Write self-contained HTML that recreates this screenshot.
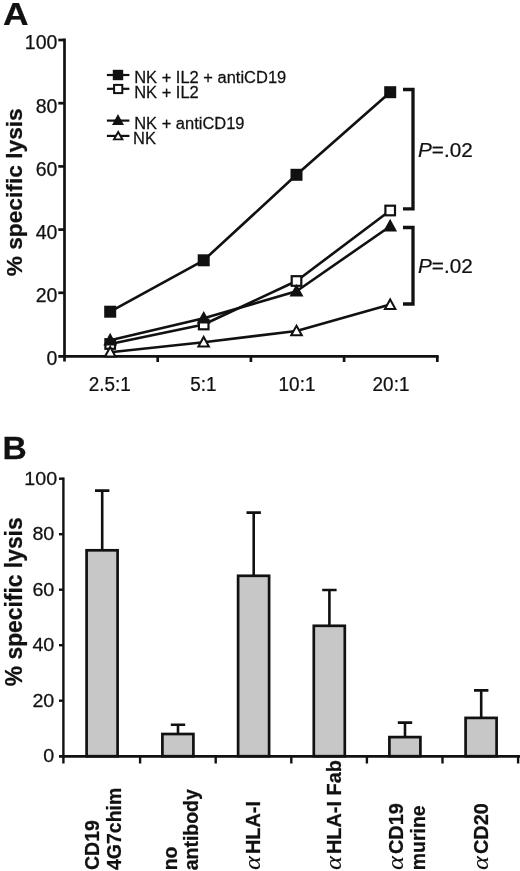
<!DOCTYPE html>
<html><head><meta charset="utf-8"><title>Figure</title>
<style>
html,body{margin:0;padding:0;background:#fff;}
svg{display:block;will-change:transform;}
text{font-family:"Liberation Sans",Arial,Helvetica,sans-serif;fill:#111;stroke:#111;stroke-width:0.25px;stroke-linejoin:round;}
.b{font-weight:bold;}
.al{font-family:"Liberation Serif","Times New Roman",serif;font-style:italic;font-weight:normal;stroke-width:0.1px;}
</style></head><body>
<svg width="520" height="871" viewBox="0 0 520 871">
<rect width="520" height="871" fill="#fff"/>

<text class="b" transform="translate(2.9 24.5) scale(1.11 1)" font-size="32">A</text>
<g stroke="#111" stroke-width="2.7" fill="none" stroke-linecap="butt">
<path d="M64.5 38.6V361.6"/>
<path d="M58.3 356.4H438.6"/>
<path d="M58.3 292.8H64.5"/>
<path d="M58.3 229.6H64.5"/>
<path d="M58.3 166.4H64.5"/>
<path d="M58.3 103.2H64.5"/>
<path d="M58.3 40.0H64.5"/>
<path d="M157.7 356V362"/>
<path d="M250.9 356V362"/>
<path d="M344.1 356V362"/>
<path d="M437.3 356V362"/>
</g>
<text transform="translate(57.4 365.4)" font-size="19.5" text-anchor="end">0</text>
<text transform="translate(57.4 302.2)" font-size="19.5" text-anchor="end">20</text>
<text transform="translate(57.4 239.0)" font-size="19.5" text-anchor="end">40</text>
<text transform="translate(57.4 175.8)" font-size="19.5" text-anchor="end">60</text>
<text transform="translate(57.4 112.6)" font-size="19.5" text-anchor="end">80</text>
<text transform="translate(57.4 49.4)" font-size="19.5" text-anchor="end">100</text>
<text transform="translate(109.8 391) scale(0.97 1)" font-size="19.5" text-anchor="middle">2.5:1</text>
<text transform="translate(203.5 391) scale(0.97 1)" font-size="19.5" text-anchor="middle">5:1</text>
<text transform="translate(297 391) scale(0.97 1)" font-size="19.5" text-anchor="middle">10:1</text>
<text transform="translate(391 391) scale(0.97 1)" font-size="19.5" text-anchor="middle">20:1</text>
<text class="b" transform="translate(21.8 192.3) rotate(-90) scale(1.002 1)" font-size="22.7" text-anchor="middle">% specific lysis</text>
<polyline points="110.2,311.7 203.7,260.3 296.5,174.8 390.2,92.2" stroke="#111" stroke-width="2.6" fill="none" stroke-linejoin="round"/>
<rect x="105.2" y="306.7" width="10" height="10" fill="#111" stroke="#111" stroke-width="2"/>
<rect x="198.7" y="255.3" width="10" height="10" fill="#111" stroke="#111" stroke-width="2"/>
<rect x="291.5" y="169.8" width="10" height="10" fill="#111" stroke="#111" stroke-width="2"/>
<rect x="385.2" y="87.2" width="10" height="10" fill="#111" stroke="#111" stroke-width="2"/>
<polyline points="110.2,344 203.7,324.5 296.5,281 390.2,210.5" stroke="#111" stroke-width="2.6" fill="none" stroke-linejoin="round"/>
<rect x="105.4" y="339.2" width="9.6" height="9.6" fill="#fff" stroke="#111" stroke-width="2.2"/>
<rect x="198.9" y="319.7" width="9.6" height="9.6" fill="#fff" stroke="#111" stroke-width="2.2"/>
<rect x="291.7" y="276.2" width="9.6" height="9.6" fill="#fff" stroke="#111" stroke-width="2.2"/>
<rect x="385.4" y="205.7" width="9.6" height="9.6" fill="#fff" stroke="#111" stroke-width="2.2"/>
<polyline points="110.2,340.2 203.7,318.3 296.5,291.3 390.2,226.2" stroke="#111" stroke-width="2.6" fill="none" stroke-linejoin="round"/>
<path d="M110.2 334.9L115.5 344.4H105.0Z" fill="#111" stroke="#111" stroke-width="2" stroke-linejoin="miter"/>
<path d="M203.7 313.1L208.9 322.6H198.4Z" fill="#111" stroke="#111" stroke-width="2" stroke-linejoin="miter"/>
<path d="M296.5 286.1L301.8 295.6H291.2Z" fill="#111" stroke="#111" stroke-width="2" stroke-linejoin="miter"/>
<path d="M390.2 220.9L395.4 230.4H384.9Z" fill="#111" stroke="#111" stroke-width="2" stroke-linejoin="miter"/>
<polyline points="110.2,352.2 203.7,342.2 296.5,331 390.2,304.6" stroke="#111" stroke-width="2.6" fill="none" stroke-linejoin="round"/>
<path d="M110.2 346.9L115.5 356.4H105.0Z" fill="#fff" stroke="#111" stroke-width="2" stroke-linejoin="miter"/>
<path d="M203.7 336.9L208.9 346.4H198.4Z" fill="#fff" stroke="#111" stroke-width="2" stroke-linejoin="miter"/>
<path d="M296.5 325.8L301.8 335.2H291.2Z" fill="#fff" stroke="#111" stroke-width="2" stroke-linejoin="miter"/>
<path d="M390.2 299.4L395.4 308.9H384.9Z" fill="#fff" stroke="#111" stroke-width="2" stroke-linejoin="miter"/>
<g stroke="#111" stroke-width="2.2">
<path d="M106.9 75H129.4"/>
<path d="M106.9 88.8H129.4"/>
<path d="M106.9 120.6H129.4"/>
<path d="M106.9 135.9H129.4"/>
</g>
<rect x="113.8" y="70.8" width="8.4" height="8.4" fill="#111" stroke="#111" stroke-width="2"/>
<rect x="114.1" y="84.9" width="8.2" height="8.2" fill="#fff" stroke="#111" stroke-width="2"/>
<path d="M118.0 116.1L122.3 124.1H113.7Z" fill="#111" stroke="#111" stroke-width="2" stroke-linejoin="miter"/>
<path d="M118.2 132.0L122.4 139.4H114.0Z" fill="#fff" stroke="#111" stroke-width="1.9" stroke-linejoin="miter"/>
<text transform="translate(134.2 82.5) scale(1.03 1)" font-size="16">NK + IL2 + antiCD19</text>
<text transform="translate(134.2 98) scale(1.03 1)" font-size="16">NK + IL2</text>
<text transform="translate(134.2 129.3) scale(1.03 1)" font-size="16">NK + antiCD19</text>
<text transform="translate(133 144.3) scale(1.03 1)" font-size="16">NK</text>
<g stroke="#111" stroke-width="3.3" fill="none" stroke-linejoin="miter">
<path d="M403 89.5H413V208.8H403"/>
<path d="M403 227.5H413V304H403"/>
</g>
<text transform="translate(418 156.8) scale(1.015 1)" font-size="20.4"><tspan font-style="italic">P</tspan>=.02</text>
<text transform="translate(418 273.4) scale(1.015 1)" font-size="20.4"><tspan font-style="italic">P</tspan>=.02</text>
<text class="b" transform="translate(2.6 459.2) scale(1.05 1)" font-size="32">B</text>
<g stroke="#111" stroke-width="2.4" fill="none">
<path d="M63.4 477.5V763.5"/>
<path d="M59 756.2H520"/>
<path d="M59 700.7H63.4"/>
<path d="M59 645.2H63.4"/>
<path d="M59 589.7H63.4"/>
<path d="M59 534.2H63.4"/>
<path d="M59 478.7H63.4"/>
<path d="M140.1 756.2V763.5"/>
<path d="M215.7 756.2V763.5"/>
<path d="M291.3 756.2V763.5"/>
<path d="M366.9 756.2V763.5"/>
<path d="M442.5 756.2V763.5"/>
<path d="M518.1 756.2V763.5"/>
</g>
<text transform="translate(54.3 762.3) scale(1.07 1)" font-size="18.4" text-anchor="end">0</text>
<text transform="translate(54.3 706.8) scale(1.07 1)" font-size="18.4" text-anchor="end">20</text>
<text transform="translate(54.3 651.3) scale(1.07 1)" font-size="18.4" text-anchor="end">40</text>
<text transform="translate(54.3 595.8) scale(1.07 1)" font-size="18.4" text-anchor="end">60</text>
<text transform="translate(54.3 540.3) scale(1.07 1)" font-size="18.4" text-anchor="end">80</text>
<text transform="translate(57.2 484.8) scale(1.07 1)" font-size="18.4" text-anchor="end">100</text>
<text class="b" transform="translate(21.8 601.8) rotate(-90) scale(0.985 1)" font-size="23.2" text-anchor="middle">% specific lysis</text>
<g stroke="#111" stroke-width="2.6" fill="none">
<path d="M102.2 550.3V490.6M95.0 490.6H109.4"/>
<path d="M178 734.0V724.8M170.8 724.8H185.2"/>
<path d="M253.7 575.8V512.6M246.5 512.6H260.9"/>
<path d="M329.4 625.8V590.0M322.2 590.0H336.6"/>
<path d="M405 737.1V722.6M397.8 722.6H412.2"/>
<path d="M481.2 717.9V690.4M474.0 690.4H488.4"/>
</g>
<g stroke="#111" stroke-width="2.7" fill="#c7c7c7">
<rect x="86.6" y="550.3" width="31" height="205.9"/>
<rect x="162.4" y="734.0" width="31" height="22.2"/>
<rect x="238.1" y="575.8" width="31" height="180.4"/>
<rect x="313.8" y="625.8" width="31" height="130.4"/>
<rect x="389.4" y="737.1" width="31" height="19.1"/>
<rect x="465.6" y="717.9" width="31" height="38.3"/>
</g>
<path d="M59 756.2H520" stroke="#111" stroke-width="2.4"/>
<text class="b" transform="translate(98.6 870) rotate(-90) scale(0.955 1)" font-size="20.4">CD19</text>
<text class="b" transform="translate(120.7 870) rotate(-90) scale(0.955 1)" font-size="20.4">4G7chim</text>
<text class="b" transform="translate(177 870.3) rotate(-90) scale(0.955 1)" font-size="20.4">no</text>
<text class="b" transform="translate(197.5 870.3) rotate(-90) scale(0.955 1)" font-size="20.4">antibody</text>
<text class="al" transform="translate(260 869.9) rotate(-90) scale(1.1 1)" font-size="24">α</text>
<text class="b" transform="translate(260 854.0) rotate(-90) scale(0.975 1)" font-size="20.4">HLA-I</text>
<text class="al" transform="translate(340.5 869.9) rotate(-90) scale(1.1 1)" font-size="24">α</text>
<text class="b" transform="translate(340.5 854.0) rotate(-90) scale(0.975 1)" font-size="20.4">HLA-I Fab</text>
<text class="al" transform="translate(402.7 869.9) rotate(-90) scale(1.1 1)" font-size="24">α</text>
<text class="b" transform="translate(402.7 854.0) rotate(-90) scale(0.975 1)" font-size="20.4">CD19</text>
<text class="al" transform="translate(488.3 869.9) rotate(-90) scale(1.1 1)" font-size="24">α</text>
<text class="b" transform="translate(488.3 854.0) rotate(-90) scale(0.975 1)" font-size="20.4">CD20</text>
<text class="b" transform="translate(425.3 870.3) rotate(-90) scale(0.955 1)" font-size="20.4">murine</text>
</svg></body></html>
